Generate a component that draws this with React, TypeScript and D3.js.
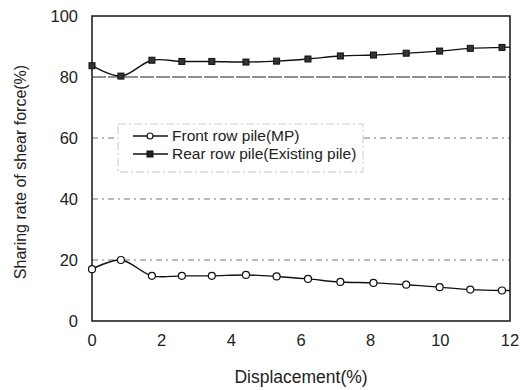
import React from 'react'
import * as d3 from 'd3'

// displacement (%) for each measurement step
const displacement = [0, 0.83, 1.72, 2.58, 3.44, 4.42, 5.3, 6.2, 7.13, 8.08, 9.02, 9.98, 10.86, 11.77]
const frontRow = [17.0, 20.0, 14.8, 14.8, 14.8, 15.1, 14.6, 13.8, 12.8, 12.5, 11.9, 11.1, 10.3, 10.0]
const rearRow = [83.7, 80.3, 85.5, 85.1, 85.1, 84.9, 85.2, 85.9, 86.9, 87.2, 87.8, 88.5, 89.4, 89.7]
const xTicks = [0, 2, 4, 6, 8, 10, 12]
const yTicks = [0, 20, 40, 60, 80, 100]
const gridValues = [20, 40, 60, 80]

const W = 532
const H = 390
const margin = { top: 16, right: 22, bottom: 69, left: 92 }

const App = () => {
    const x = d3.scaleLinear().domain([0, 12]).range([margin.left, W - margin.right])
    const y = d3.scaleLinear().domain([0, 100]).range([H - margin.bottom, margin.top])

    const line = d3.line<[number, number]>()
        .x(d => x(d[0]))
        .y(d => y(d[1]))
        .curve(d3.curveCatmullRom.alpha(0.5))

    const front = displacement.map((d, i) => [d, frontRow[i]] as [number, number])
    const rear = displacement.map((d, i) => [d, rearRow[i]] as [number, number])
    // lines run on to the right frame
    const frontPath = line([...front, [12, frontRow[frontRow.length - 1]]])
    const rearPath = line([...rear, [12, rearRow[rearRow.length - 1] + 0.1]])

    const font = 'Liberation Sans, Arial, sans-serif'
    const lx = 118
    const ly = 124

    return (
        <svg width={W} height={H} style={{ position: 'absolute', left: 0, top: 0 }}>
            <rect width={W} height={H} fill='#fff' />
            {gridValues.map(v => (
                <line key={v} x1={x(0)} x2={x(12)} y1={y(v)} y2={y(v)}
                    stroke={v === 80 ? '#222' : '#777'}
                    strokeWidth={v === 80 ? 1.2 : 1}
                    strokeDasharray={v === 80 ? '14 2' : '6 4 2 4'} />
            ))}
            <rect x={x(0)} y={y(100)} width={x(12) - x(0)} height={y(0) - y(100)}
                fill='none' stroke='#222' strokeWidth={1.6} />

            {/* legend */}
            <rect x={lx} y={ly} width={245} height={48} fill='#fff' stroke='#bbb' strokeWidth={0.8} strokeDasharray='8 3 2 3' />
            <line x1={lx + 15} x2={lx + 50} y1={ly + 12} y2={ly + 12} stroke='#111' strokeWidth={1.3} />
            <circle cx={lx + 32} cy={ly + 12} r={3} fill='#fff' stroke='#111' strokeWidth={1.1} />
            <text x={lx + 54} y={ly + 17} fontFamily={font} fontSize={15.5} fill='#222'>Front row pile(MP)</text>
            <line x1={lx + 15} x2={lx + 50} y1={ly + 30} y2={ly + 30} stroke='#111' strokeWidth={1.3} />
            <rect x={lx + 29} y={ly + 27} width={6} height={6} fill='#222' stroke='#111' />
            <text x={lx + 54} y={ly + 35} fontFamily={font} fontSize={15.5} fill='#222'>Rear row pile(Existing pile)</text>

            <path d={rearPath || ''} fill='none' stroke='#111' strokeWidth={1.4} />
            <path d={frontPath || ''} fill='none' stroke='#111' strokeWidth={1.4} />
            {rear.map((d, i) => (
                <rect key={i} x={x(d[0]) - 3} y={y(d[1]) - 3} width={6} height={6} fill='#333' stroke='#111' strokeWidth={1} />
            ))}
            {front.map((d, i) => (
                <circle key={i} cx={x(d[0])} cy={y(d[1])} r={3.5} fill='#fff' stroke='#111' strokeWidth={1.2} />
            ))}

            {yTicks.map(v => (
                <text key={v} x={x(0) - 14} y={y(v)} dy='0.35em' textAnchor='end'
                    fontFamily={font} fontSize={16.5} fill='#222'>{v}</text>
            ))}
            {xTicks.map(v => (
                <text key={v} x={x(v)} y={346} textAnchor='middle'
                    fontFamily={font} fontSize={16.5} fill='#222'>{v}</text>
            ))}
            <text x={x(6)} y={383} textAnchor='middle' fontFamily={font} fontSize={17.5} fill='#222'>Displacement(%)</text>
            <text transform={`translate(26, ${172}) rotate(-90)`} textAnchor='middle'
                fontFamily={font} fontSize={16} fill='#222'>Sharing rate of shear force(%)</text>
        </svg>
    )
}

export default App
